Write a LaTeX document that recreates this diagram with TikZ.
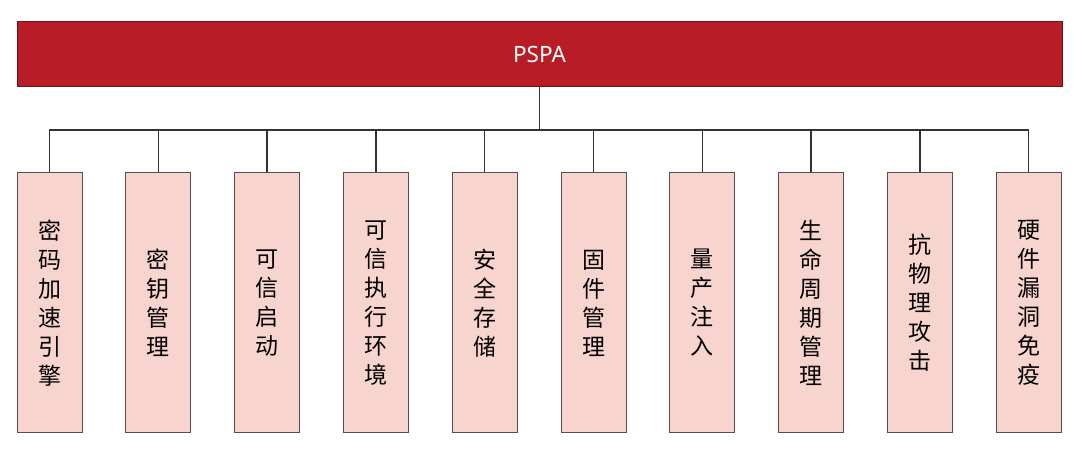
\documentclass[tikz,border=0pt]{standalone}
\usepackage{fontspec}
\setmainfont{Noto Sans}
\newfontfamily\cjk{Noto Sans CJK SC}
\definecolor{topred}{HTML}{B81D27}
\definecolor{topedge}{HTML}{6E1018}
\definecolor{boxfill}{HTML}{F8D4CF}
\definecolor{boxedge}{HTML}{5A4C4C}
\definecolor{linecol}{HTML}{333333}
\tikzset{
  topbar/.style={draw=topedge, line width=1pt, fill=topred, minimum width=1045pt, minimum height=65pt, inner sep=0pt, text=white, font=\fontsize{22.5}{26}\selectfont},
  leaf/.style={draw=boxedge, line width=1pt, fill=boxfill, minimum width=65pt, minimum height=260pt, inner sep=0pt, align=center, font=\cjk\fontsize{23}{29}\selectfont, text=black},
  conn/.style={draw=linecol, line width=1.4pt}
}
\begin{document}
\begin{tikzpicture}[x=1pt,y=-1pt]
\useasboundingbox (0,0) rectangle (1080,454);
\fill[white] (0,0) rectangle (1080,454);
\node[topbar] (top) at (539.5,54) {PSPA};
\coordinate (bus) at (539.5,130);
\foreach \i/\t in {0/{密\\码\\加\\速\\引\\擎},1/{密\\钥\\管\\理},2/{可\\信\\启\\动},3/{可\\信\\执\\行\\环\\境},4/{安\\全\\存\\储},5/{固\\件\\管\\理},6/{量\\产\\注\\入},7/{生\\命\\周\\期\\管\\理},8/{抗\\物\\理\\攻\\击},9/{硬\\件\\漏\\洞\\免\\疫}}{
  \node[leaf] (b\i) at ({49.5+\i*108.8},303) {\t};
  \draw[conn] (bus) -| (b\i.north);
}
\draw[conn] (top.south) -- (bus);
\end{tikzpicture}
\end{document}
